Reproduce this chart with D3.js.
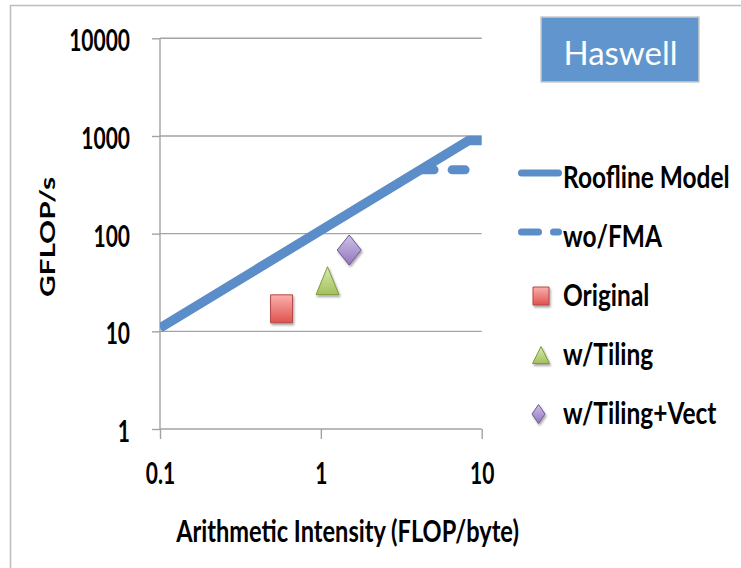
<!DOCTYPE html>
<html>
<head>
<meta charset="utf-8">
<script src="https://cdn.jsdelivr.net/npm/d3@7"></script>
<style>
  html, body { margin: 0; padding: 0; background: #fff; }
  svg { display: block; }
  text { font-family: Lato, "Open Sans", sans-serif; }
</style>
</head>
<body>
<svg id="chart" width="741" height="568"></svg>
<script>
// Roofline: arithmetic intensity (FLOP/byte) vs attainable GFLOP/s
const roofAI   = [0.1, 8.3, 10];
const roofPerf = [10.8, 900, 900];
const noFmaAI   = [4.2, 10];
const noFmaPerf = [450, 450];

const kernels    = ["Original", "w/Tiling", "w/Tiling+Vect"];
const kernelAI   = [0.57, 1.1, 1.5];
const kernelPerf = [17, 33, 68];

const xTicks = [0.1, 1, 10];
const yTicks = [1, 10, 100, 1000, 10000];
const xTickLabels = ["0.1", "1", "10"];
const yTickLabels = ["1", "10", "100", "1000", "10000"];

const legendLabels = ["Roofline Model", "wo/FMA", "Original", "w/Tiling", "w/Tiling+Vect"];

const lineBlue = "#5B8DC8";
const gridGrey = "#a3a3a3";

const svg = d3.select("#chart");

const x = d3.scaleLog().domain([0.1, 10]).range([160, 481.7]);
const y = d3.scaleLog().domain([1, 10000]).range([429, 38.3]);

// outer frame
svg.append("rect").attr("x", 10.5).attr("y", 5.5).attr("width", 900).attr("height", 700)
  .attr("fill", "none").attr("stroke", "#bdbdbd").attr("stroke-width", 1.5);

const defs = svg.append("defs");
defs.append("clipPath").attr("id", "plotClip").append("rect")
  .attr("x", 160).attr("y", 0).attr("width", 324).attr("height", 440);

const shadow = defs.append("filter").attr("id", "shadow")
  .attr("x", "-50%").attr("y", "-50%").attr("width", "200%").attr("height", "200%");
shadow.append("feDropShadow").attr("dx", 1.2).attr("dy", 2).attr("stdDeviation", 1.3)
  .attr("flood-color", "#000").attr("flood-opacity", 0.35);

const palette = [
  { id: "gRed",    top: "#FAB0AE", bot: "#E0524E", stroke: "#B44845" },
  { id: "gGreen",  top: "#D8EAB0", bot: "#A2C15A", stroke: "#7E9A3E" },
  { id: "gPurple", top: "#CFC0E6", bot: "#9277BE", stroke: "#6C5896" }
];
palette.forEach(p => {
  const g = defs.append("linearGradient").attr("id", p.id)
    .attr("x1", 0).attr("y1", 0).attr("x2", 0).attr("y2", 1);
  g.append("stop").attr("offset", "0%").attr("stop-color", p.top);
  g.append("stop").attr("offset", "100%").attr("stop-color", p.bot);
});

// marker shapes centred on (cx, cy)
function shapePath(kind, cx, cy, w, h) {
  const hw = w / 2, hh = h / 2;
  if (kind === 0) return `M${cx - hw},${cy - hh}H${cx + hw}V${cy + hh}H${cx - hw}Z`;
  if (kind === 1) return `M${cx},${cy - hh}L${cx + hw},${cy + hh}H${cx - hw}Z`;
  return `M${cx},${cy - hh}L${cx + hw},${cy}L${cx},${cy + hh}L${cx - hw},${cy}Z`;
}
const plotSizes = [[22, 28], [23, 28], [24, 30]];
const legendSizes = [[16, 18], [17, 17], [13, 19]];

// horizontal gridlines
svg.append("g").selectAll("line").data(yTicks.slice(1)).join("line")
  .attr("x1", x(0.1)).attr("x2", x(10))
  .attr("y1", d => y(d)).attr("y2", d => y(d))
  .attr("stroke", gridGrey).attr("stroke-width", 1.4);

// axes
const tickSY = 1.42;
const yAxis = svg.append("g").attr("transform", `translate(${x(0.1)},0)`)
  .call(d3.axisLeft(y).tickValues(yTicks).tickSize(8).tickFormat((d, i) => yTickLabels[i]));
const xAxis = svg.append("g").attr("transform", `translate(0,${y(1)})`)
  .call(d3.axisBottom(x).tickValues(xTicks).tickSize(10).tickFormat((d, i) => xTickLabels[i]));
[yAxis, xAxis].forEach(a => {
  a.selectAll("path.domain, line").attr("stroke", gridGrey).attr("stroke-width", 1.4);
  a.select("path.domain").attr("d", a === yAxis
    ? `M0,${y(10000)}V${y(1)}` : `M${x(0.1)},0H${x(10)}`);
  a.selectAll("text").attr("fill", "#000")
    .style("font-family", "Lato, sans-serif").style("font-weight", 700).style("font-size", "21px");
});
yAxis.selectAll("text").attr("x", -30).attr("dy", "0.42em").attr("transform", `scale(1,${tickSY})`);
xAxis.selectAll("text").attr("y", 31).attr("dy", "0.36em").attr("transform", `scale(1,${tickSY})`);

// roofline and no-FMA ceiling
const line = d3.line().x(d => x(d[0])).y(d => y(d[1]));
const plot = svg.append("g").attr("clip-path", "url(#plotClip)");
plot.append("path").datum(noFmaAI.map((v, i) => [v, noFmaPerf[i]]))
  .attr("d", line).attr("fill", "none").attr("stroke", lineBlue).attr("stroke-width", 9)
  .attr("stroke-linecap", "round").attr("stroke-dasharray", "13,18");
plot.append("path").datum(roofAI.map((v, i) => [v, roofPerf[i]]))
  .attr("d", line).attr("fill", "none").attr("stroke", lineBlue).attr("stroke-width", 9.5)
  .attr("stroke-linejoin", "miter");

// measured kernels
svg.append("g").selectAll("path").data(kernels).join("path")
  .attr("d", (d, i) => shapePath(i, x(kernelAI[i]), y(kernelPerf[i]), plotSizes[i][0], plotSizes[i][1]))
  .attr("fill", (d, i) => `url(#${palette[i].id})`)
  .attr("stroke", (d, i) => palette[i].stroke).attr("stroke-width", 1)
  .attr("filter", "url(#shadow)");

// text stretched along its vertical glyph axis
function stretchedText(g, tx, ty, str, size, sy, weight, anchor, rot) {
  return g.append("text")
    .attr("transform", `translate(${tx},${ty})` + (rot ? ` rotate(${rot}) scale(${sy},1)` : ` scale(1,${sy})`))
    .attr("text-anchor", anchor).style("font-size", size + "px").style("font-weight", weight)
    .attr("fill", "#000").text(str);
}
stretchedText(svg, 347.5, 542, "Arithmetic Intensity (FLOP/byte)", 23.6, 1.29, 700, "middle");
stretchedText(svg, 55, 237, "GFLOP/s", 21, 1.42, 700, "middle", -90);

// legend
const legBase = 188, legStep = 59;
const leg = svg.append("g");
legendLabels.forEach((lab, i) => {
  const by = legBase + i * legStep;
  stretchedText(leg, 563, by, lab, 24.5, 1.24, 700, "start");
  if (i === 0) {
    leg.append("line").attr("x1", 521.5).attr("x2", 558.5).attr("y1", by - 15).attr("y2", by - 15)
      .attr("stroke", lineBlue).attr("stroke-width", 7).attr("stroke-linecap", "round");
  } else if (i === 1) {
    leg.append("line").attr("x1", 521.5).attr("x2", 558.5).attr("y1", by - 15).attr("y2", by - 15)
      .attr("stroke", lineBlue).attr("stroke-width", 7).attr("stroke-linecap", "round")
      .attr("stroke-dasharray", "17,15");
  } else {
    const k = i - 2;
    const cx = k === 2 ? 538.5 : 541;
    leg.append("path")
      .attr("d", shapePath(k, cx, by - 10, legendSizes[k][0], legendSizes[k][1]))
      .attr("fill", `url(#${palette[k].id})`).attr("stroke", palette[k].stroke).attr("stroke-width", 1)
      .attr("filter", "url(#shadow)");
  }
});

// title box
svg.append("rect").attr("x", 541).attr("y", 17).attr("width", 158).attr("height", 65)
  .attr("fill", "#6096CD").attr("stroke", "#cacaca").attr("stroke-width", 1.5);
svg.append("text").attr("x", 620.5).attr("y", 65).attr("text-anchor", "middle")
  .style("font-size", "33px").style("font-weight", 400).attr("fill", "#fff").text("Haswell");
</script>
</body>
</html>
